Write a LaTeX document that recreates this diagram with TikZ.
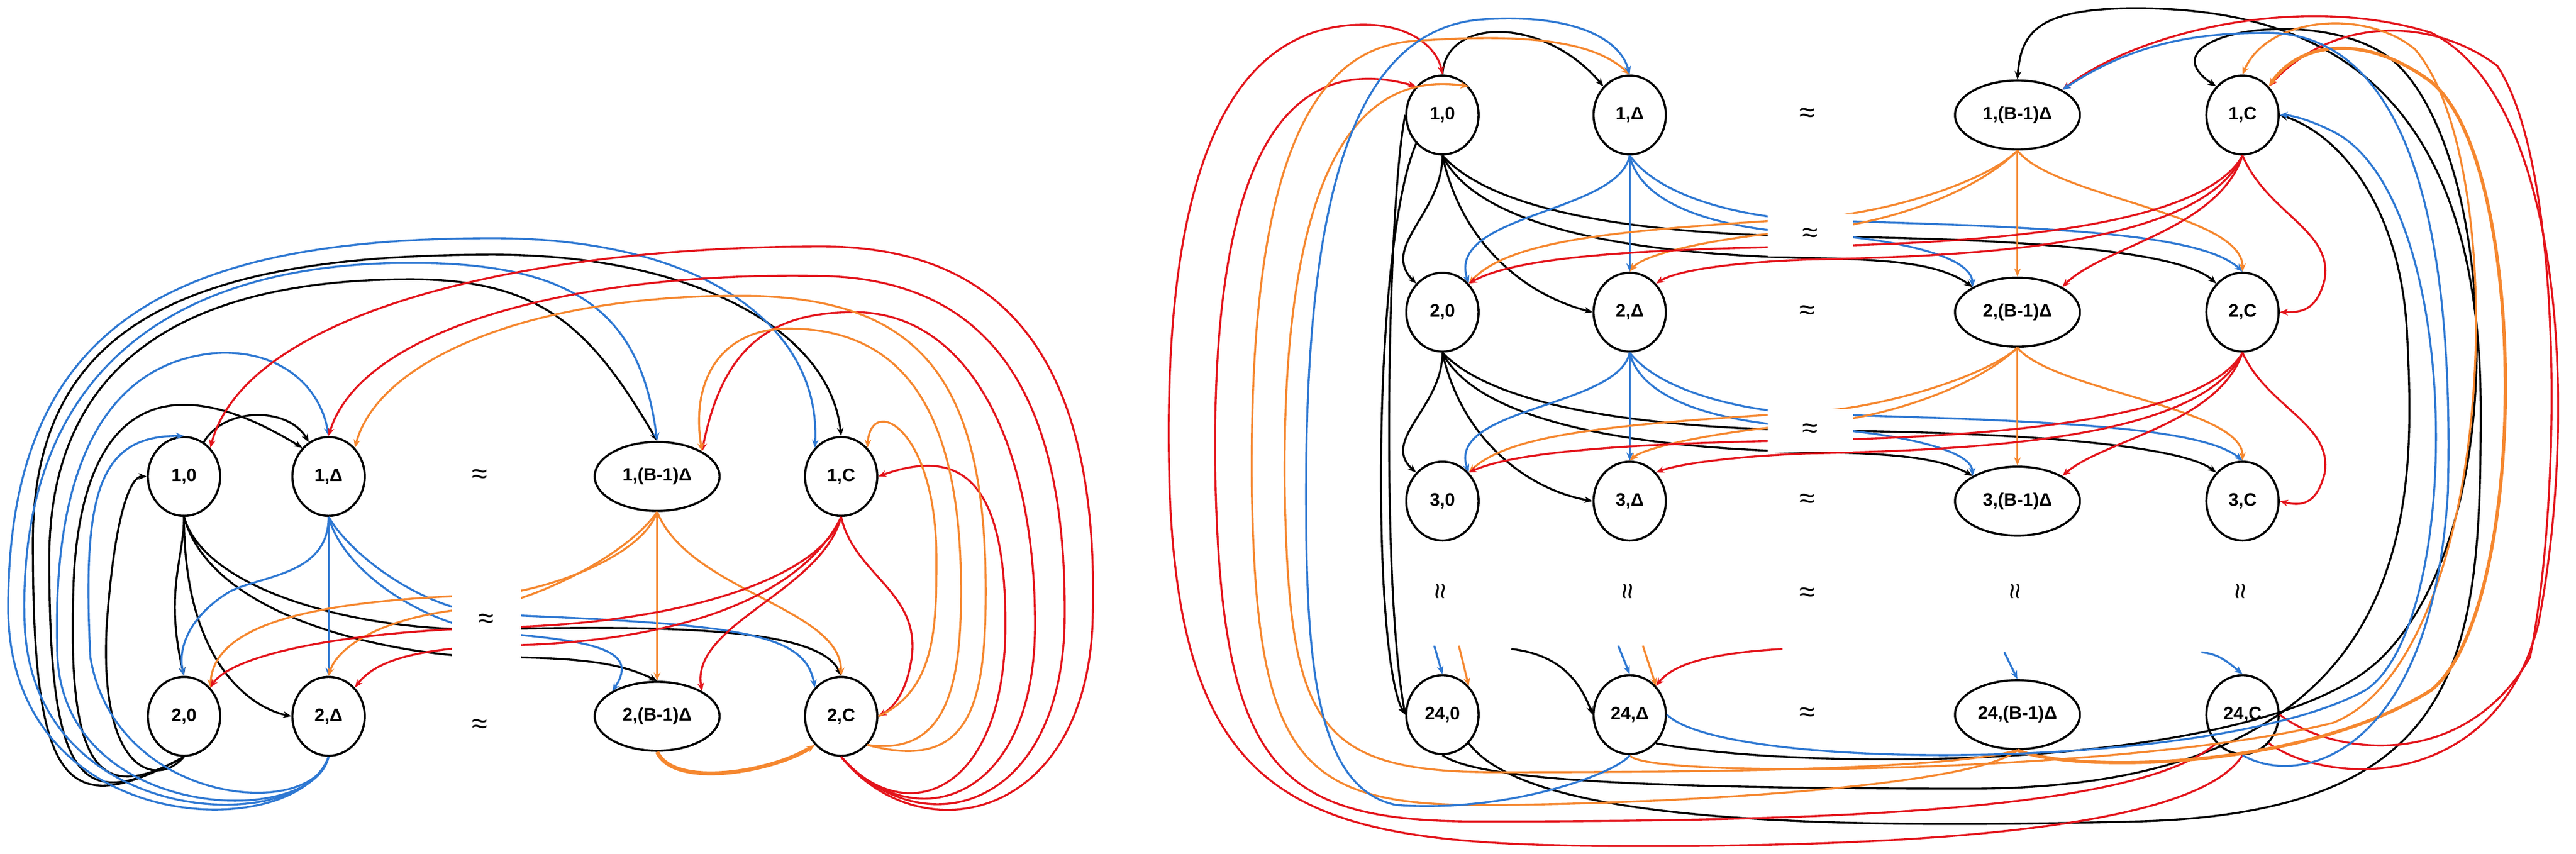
\documentclass[tikz,border=0pt]{standalone}
\usepackage{fontspec}
\setmainfont{Liberation Sans}
\usetikzlibrary{shapes.geometric,arrows.meta}
\definecolor{cb}{HTML}{2E78D2}
\definecolor{co}{HTML}{F5872F}
\definecolor{cr}{HTML}{E3141B}
\begin{document}
\begin{tikzpicture}[x=1pt,y=-1pt,
 n/.style={ellipse,draw,line width=1.3pt,minimum width=44,minimum height=48,inner sep=0,font=\bfseries\fontsize{11}{12}\selectfont},
 w/.style={n,minimum width=76,minimum height=42},
 e/.style={line width=1.2pt,-{Stealth[length=5pt,width=4pt]}},
 bk/.style={e,black}, bl/.style={e,cb}, or/.style={e,co}, rd/.style={e,cr},
 ap/.style={font=\fontsize{17}{17}\selectfont},
 gap/.style={ap,fill=white,inner sep=0}]
\useasboundingbox (0,0) rectangle (1568,519.5);
% ---------------- LEFT ----------------
\node[n] (L10) at (112,290) {1,0};
\node[n] (L1D) at (200,290) {1,Δ};
\node[w] (L1B) at (400,290) {1,(B-1)Δ};
\node[n] (L1C) at (512,290) {1,C};
\node[n] (L20) at (112,436) {2,0};
\node[n] (L2D) at (200,436) {2,Δ};
\node[w] (L2B) at (400,436) {2,(B-1)Δ};
\node[n] (L2C) at (512,436) {2,C};
\node[ap] (La1) at (292,290) {≈};
\node[ap] (La3) at (292,442) {≈};
% black down
\draw[bk] (L10) to[out=60,in=120] (L1D);
\draw[bk] (L10.south) .. controls (112,340) and (100,360) .. (L20.north);
\draw[bk] (L10.south) .. controls (112,400) and (150,430) .. (L2D.west);
\draw[bk] (L10.south) .. controls (130,380) and (250,400) .. (300,400) .. controls (360,400) and (380,405) .. (L2B.north);
\draw[bk] (L10.south) .. controls (125,360) and (220,385) .. (300,383) .. controls (430,380) and (500,385) .. (L2C.north);
% blue down
\draw[bl] (L1D.south) .. controls (200,350) and (160,350) .. (140,360) .. controls (115,375) and (108,395) .. (L20.north);
\draw[bl] (L1D.south) -- (L2D.north);
\draw[bl] (L1D.south) .. controls (210,350) and (260,380) .. (300,385) .. controls (360,390) and (390,395) .. (L2B.north west);
\draw[bl] (L1D.south) .. controls (215,340) and (260,372) .. (300,374) .. controls (450,380) and (490,385) .. (L2C.north west);
% orange down
\draw[or] (L1B.south) .. controls (390,340) and (330,360) .. (300,362) .. controls (190,365) and (130,380) .. (L20.north east);
\draw[or] (L1B.south) .. controls (380,340) and (320,368) .. (290,370) .. controls (230,375) and (205,395) .. (L2D.north);
\draw[or] (L1B.south) -- (L2B.north);
\draw[or] (L1B.south) .. controls (420,360) and (512,370) .. (L2C.north);
% red down
\draw[rd] (L1C.south) .. controls (500,350) and (420,380) .. (300,382) .. controls (200,385) and (140,400) .. (L20.north east);
\draw[rd] (L1C.south) .. controls (490,360) and (420,392) .. (300,393) .. controls (260,395) and (230,400) .. (L2D.north east);
\draw[rd] (L1C.south) .. controls (500,360) and (420,380) .. (L2B.north east);
\draw[rd] (L1C.south) .. controls (520,350) and (560,360) .. (555,400) .. controls (552,420) and (545,430) .. (L2C.east);
\node[gap,minimum width=42,minimum height=46] at (296,378) {≈};
% black loops from 2,0
\draw[bk] (L20.south) .. controls (95,480) and (60,470) .. (65,380) .. controls (70,310) and (80,290) .. (L10.west);
\draw[bk] (L20.south) .. controls (60,490) and (40,470) .. (45,350) .. controls (50,260) and (90,215) .. (L1D.north west);
\draw[bk] (L20.south) .. controls (50,495) and (30,480) .. (30,340) .. controls (30,230) and (100,170) .. (250,170) .. controls (330,170) and (360,200) .. (L1B.north);
\draw[bk] (L20.south) .. controls (40,500) and (20,480) .. (20,330) .. controls (20,200) and (110,155) .. (300,155) .. controls (420,155) and (505,200) .. (L1C.north);
% blue loops from 2,Δ
\draw[bl] (L2D.south) .. controls (190,500) and (70,490) .. (55,400) .. controls (50,300) and (60,265) .. (L10.north);
\draw[bl] (L2D.south) .. controls (190,505) and (40,500) .. (35,400) .. controls (30,260) and (80,220) .. (130,215) .. controls (170,212) and (195,235) .. (L1D.north);
\draw[bl] (L2D.south) .. controls (185,510) and (20,505) .. (15,380) .. controls (10,230) and (100,160) .. (250,160) .. controls (350,160) and (390,190) .. (L1B.north);
\draw[bl] (L2D.south) .. controls (180,515) and (5,510) .. (5,370) .. controls (5,200) and (100,145) .. (300,145) .. controls (430,145) and (500,200) .. (L1C.north west);
% red loops from 2,C
\draw[rd] (L2C.south) .. controls (560,520) and (660,500) .. (665,380) .. controls (670,230) and (620,150) .. (500,150) .. controls (320,150) and (150,190) .. (L10.north east);
\draw[rd] (L2C.south) .. controls (560,515) and (645,495) .. (648,380) .. controls (650,250) and (610,170) .. (500,168) .. controls (350,165) and (220,200) .. (L1D.north);
\draw[rd] (L2C.south) .. controls (555,510) and (630,490) .. (630,380) .. controls (630,270) and (590,190) .. (520,190) .. controls (470,190) and (440,210) .. (L1B.north east);
\draw[rd] (L2C.south) .. controls (550,505) and (612,485) .. (612,380) .. controls (612,300) and (590,270) .. (L1C.east);
% orange loops from 2,C
\draw[or] (L2C.south east) .. controls (590,470) and (600,430) .. (600,360) .. controls (600,230) and (560,180) .. (450,180) .. controls (320,180) and (230,220) .. (L1D.north east);
\draw[or] (L2C.south east) .. controls (575,460) and (585,420) .. (585,360) .. controls (585,250) and (550,200) .. (480,200) .. controls (440,200) and (420,230) .. (L1B.north east);
\draw[or] (L2C.east) .. controls (570,420) and (570,380) .. (570,340) .. controls (570,260) and (530,240) .. (L1C.north east);
\draw[e,co,line width=2.4pt] (L2B.south) .. controls (410,480) and (470,470) .. (L2C.south west);
% ---------------- RIGHT ----------------
\foreach \r/\y in {1/70,2/190,3/305,24/435}{
 \node[n] (R\r0) at (878,\y) {\r,0};
 \node[n] (R\r D) at (992,\y) {\r,Δ};
 \node[w] (R\r B) at (1228,\y) {\r,(B-1)Δ};
 \node[n] (R\r C) at (1365,\y) {\r,C};
 \node[ap] at (1100,\y) {≈};
}
\foreach \x in {878,992,1228,1365}{\node[ap,rotate=90] at (\x,360) {≈};}
\node[ap] at (1100,362) {≈};
\foreach \a/\b/\m in {1/2/130,2/3/248}{
 \draw[bk] (R\a0.south) .. controls (878,\m) and (840,\m+20) .. (R\b0.north west);
 \draw[bk] (R\a0.south) .. controls (890,\m+20) and (930,\m+50) .. (R\b D.west);
 \draw[bk] (R\a0.south) .. controls (900,\m+10) and (1000,\m+25) .. (1100,\m+27) .. controls (1150,\m+28) and (1180,\m+30) .. (R\b B.north west);
 \draw[bk] (R\a0.south) .. controls (910,\m) and (1000,\m+12) .. (1100,\m+14) .. controls (1250,\m+15) and (1330,\m+25) .. (R\b C.north west);
 \draw[bl] (R\a D.south) .. controls (985,\m) and (880,\m) .. (R\b0.north east);
 \draw[bl] (R\a D.south) -- (R\b D.north);
 \draw[bl] (R\a D.south) .. controls (1000,\m) and (1060,\m+10) .. (1100,\m+12) .. controls (1150,\m+15) and (1200,\m+25) .. (R\b B.north west);
 \draw[bl] (R\a D.south) .. controls (1010,\m-10) and (1060,\m+2) .. (1100,\m+4) .. controls (1250,\m+8) and (1340,\m+12) .. (R\b C.north);
 \draw[or] (R\a B.south) .. controls (1210,\m-20) and (1150,\m) .. (1100,\m+3) .. controls (990,\m+10) and (920,\m+15) .. (R\b0.north east);
 \draw[or] (R\a B.south) .. controls (1200,\m-10) and (1140,\m+8) .. (1100,\m+10) .. controls (1040,\m+15) and (1000,\m+25) .. (R\b D.north);
 \draw[or] (R\a B.south) -- (R\b B.north);
 \draw[or] (R\a B.south) .. controls (1250,\m-10) and (1365,\m) .. (R\b C.north);
 \draw[rd] (R\a C.south) .. controls (1340,\m+10) and (1200,\m+18) .. (1100,\m+20) .. controls (980,\m+22) and (920,\m+28) .. (R\b0.north east);
 \draw[rd] (R\a C.south) .. controls (1340,\m+20) and (1200,\m+26) .. (1100,\m+28) .. controls (1050,\m+30) and (1020,\m+35) .. (R\b D.north east);
 \draw[rd] (R\a C.south) .. controls (1350,\m+10) and (1280,\m+20) .. (R\b B.north east);
 \draw[rd] (R\a C.south) .. controls (1380,\m) and (1420,\m+10) .. (1415,\m+40) .. controls (1410,\m+60) and (1400,\m+60) .. (R\b C.east);
}
\node[gap,minimum width=52,minimum height=26] at (1102,143) {≈};
\node[gap,minimum width=52,minimum height=26] at (1102,262) {≈};
% stubs into row 24
\draw[bl] (873,393) -- (R240.north);
\draw[or] (888,393) -- (R240.north east);
\draw[bk] (920,395) .. controls (945,398) and (960,410) .. (R24D.west);
\draw[bl] (985,393) -- (R24D.north);
\draw[or] (1000,393) -- (R24D.north east);
\draw[rd] (1085,395) .. controls (1050,397) and (1020,402) .. (R24D.north east);
\draw[bl] (1220,397) -- (R24B.north);
\draw[bl] (1340,397) .. controls (1350,398) and (1355,402) .. (R24C.north);
% long edges
\draw[bk] (R10.west) .. controls (845,120) and (840,350) .. (R240.west);
\draw[bk] (R10.south west) .. controls (835,150) and (835,400) .. (R240.west);
\draw[bk] (R240.south) .. controls (900,475) and (1000,480) .. (1200,480) .. controls (1480,480) and (1470,300) .. (1465,200) .. controls (1460,120) and (1420,80) .. (R1C.east);
\draw[bk] (R240.south east) .. controls (930,500) and (1100,505) .. (1300,500) .. controls (1500,495) and (1510,400) .. (1510,250) .. controls (1510,60) and (1420,5) .. (1300,5) .. controls (1240,5) and (1230,20) .. (R1B.north);
\draw[bk] (R24D.south east) .. controls (1100,470) and (1380,470) .. (1450,400) .. controls (1530,320) and (1520,100) .. (1460,40) .. controls (1420,0) and (1300,20) .. (R1C.north west);
\draw[bk] (R10.north) .. controls (880,10) and (940,10) .. (R1D.north west);
\draw[rd] (R24C.south) .. controls (1340,500) and (1200,515) .. (1000,515) .. controls (800,515) and (720,500) .. (712,300) .. controls (705,80) and (760,15) .. (830,15) .. controls (860,15) and (875,30) .. (R10.north);
\draw[rd] (R24C.south west) .. controls (1300,495) and (1100,500) .. (900,500) .. controls (780,500) and (745,470) .. (740,300) .. controls (735,100) and (780,30) .. (R10.north west);
\draw[rd] (R24C.east) .. controls (1420,460) and (1500,470) .. (1540,400) .. controls (1560,300) and (1560,100) .. (1520,40) .. controls (1480,10) and (1420,10) .. (R1C.north east);
\draw[rd] (R24C.south east) .. controls (1420,480) and (1520,480) .. (1545,380) .. controls (1570,250) and (1560,60) .. (1480,20) .. controls (1400,-5) and (1300,20) .. (R1B.north east);
\draw[or] (R24B.south) .. controls (1200,480) and (1000,490) .. (900,490) .. controls (790,490) and (765,460) .. (762,300) .. controls (760,120) and (790,30) .. (860,25) .. controls (930,20) and (970,25) .. (R1D.north);
\draw[or] (R24B.south) .. controls (1180,470) and (1000,470) .. (910,470) .. controls (800,470) and (785,440) .. (782,300) .. controls (780,140) and (810,40) .. (R10.north east);
\draw[e,co,line width=2pt] (R24B.south) .. controls (1260,470) and (1400,470) .. (1480,420) .. controls (1540,370) and (1540,100) .. (1480,50) .. controls (1440,20) and (1400,25) .. (R1C.north east);
\draw[or] (R24D.south) .. controls (1000,475) and (1300,470) .. (1420,440) .. controls (1520,400) and (1530,100) .. (1470,30) .. controls (1440,5) and (1380,10) .. (R1C.north);
\draw[bl] (R24D.south) .. controls (985,470) and (920,495) .. (850,490) .. controls (800,480) and (795,400) .. (795,300) .. controls (795,130) and (820,20) .. (900,12) .. controls (950,8) and (985,20) .. (R1D.north);
\draw[bl] (R24D.east) .. controls (1050,470) and (1350,470) .. (1440,420) .. controls (1500,380) and (1500,120) .. (1420,80) .. controls (1400,70) and (1390,70) .. (R1C.east);
\draw[bl] (R24C.south) .. controls (1400,480) and (1480,460) .. (1490,300) .. controls (1495,100) and (1450,20) .. (1380,20) .. controls (1340,20) and (1300,25) .. (R1B.north east);
\end{tikzpicture}
\end{document}
